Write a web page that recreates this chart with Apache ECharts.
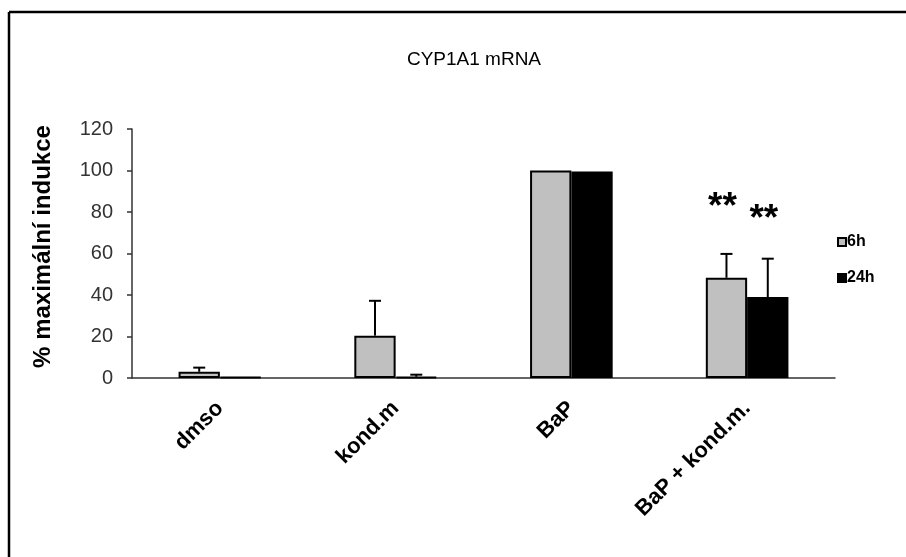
<!DOCTYPE html>
<html>
<head>
<meta charset="utf-8">
<script src="https://cdn.jsdelivr.net/npm/echarts@6/dist/echarts.min.js"></script>
<style>
html,body{margin:0;padding:0;background:#fff;}
#c{width:906px;height:557px;}
</style>
</head>
<body>
<div id="c"></div>
<script>
const categories = ['dmso', 'kond.m', 'BaP', 'BaP + kond.m.'];
const values6h = [3, 20.4, 100, 48.3];
const values24h = [0.4, 0.6, 99.5, 39];
const err6h = [2, 16.8, 0, 11.5];
const err24h = [0, 1, 0, 18.5];
const stars6h = ['', '', '', '**'];
const stars24h = ['', '', '', '**'];
const starLevel6h = [null, null, null, 85.5];
const starLevel24h = [null, null, null, 79.5];
const yTicks = [0, 20, 40, 60, 80, 100, 120];

const BAR_FRAC = 0.235;

function errorSeries(name, vals, errs, side, stars, starLevels) {
  const data = vals.map((v, i) => [i, v, v + errs[i], stars[i], starLevels[i], errs[i]]);
  return {
    type: 'custom',
    name: name + '_err',
    data: data,
    z: 10,
    silent: true,
    renderItem: function (params, api) {
      const i = api.value(0);
      const band = api.size([1, 0])[0];
      const bw = band * BAR_FRAC;
      const base = api.coord([i, api.value(1)]);
      const x = base[0] + side * bw / 2;
      const children = [];
      if (api.value(5) > 0) {
        const top = api.coord([i, api.value(2)]);
        const cap = 6;
        children.push({
          type: 'line',
          shape: {x1: x, y1: base[1], x2: x, y2: top[1]},
          style: {stroke: '#000', lineWidth: 2}
        });
        children.push({
          type: 'line',
          shape: {x1: x - cap, y1: top[1], x2: x + cap, y2: top[1]},
          style: {stroke: '#000', lineWidth: 2}
        });
      }
      const s = stars[i];
      if (s) {
        const sp = api.coord([i, starLevels[i]]);
        children.push({
          type: 'text',
          x: x - 4,
          y: sp[1] + 7,
          style: {
            text: s,
            fontSize: 37,
            fontWeight: 'bold',
            fontFamily: 'Liberation Sans, Arial, sans-serif',
            fill: '#000',
            align: 'center',
            verticalAlign: 'middle'
          }
        });
      }
      return {type: 'group', children: children};
    }
  };
}

const chart = echarts.init(document.getElementById('c'), null, {renderer: 'canvas'});
const option = {
  backgroundColor: '#fff',
  animation: false,
  title: {
    text: 'CYP1A1 mRNA',
    left: 469,
    top: 45,
    textAlign: 'center',
    textStyle: {fontSize: 19, fontWeight: 'normal', color: '#000', fontFamily: 'Liberation Sans, Arial, sans-serif'}
  },
  legend: {
    orient: 'vertical',
    left: 832,
    top: 229,
    itemWidth: 8,
    itemHeight: 8,
    itemGap: 20,
    icon: 'rect',
    data: ['6h', '24h'],
    textStyle: {fontSize: 16, fontWeight: 'bold', color: '#000', fontFamily: 'Liberation Sans, Arial, sans-serif', padding: [0, 0, 0, -4]}
  },
  grid: {left: 132, right: 71, top: 129, bottom: 179, containLabel: false},
  xAxis: {
    type: 'category',
    data: categories,
    axisLine: {lineStyle: {color: '#333', width: 1.5}},
    axisTick: {show: false},
    axisLabel: {
      rotate: 45,
      margin: 27,
      interval: 0,
      fontSize: 22,
      fontWeight: 'bold',
      color: '#000',
      fontFamily: 'Liberation Sans, Arial, sans-serif'
    }
  },
  yAxis: {
    type: 'value',
    min: 0,
    max: 120,
    interval: 20,
    name: '% maximální indukce',
    nameLocation: 'middle',
    nameGap: 77,
    nameRotate: 90,
    nameTextStyle: {fontSize: 24, fontWeight: 'bold', color: '#000', fontFamily: 'Liberation Sans, Arial, sans-serif', padding: [0, 0, 0, 14]},
    axisLine: {show: true, lineStyle: {color: '#333', width: 1.5}},
    axisTick: {show: true, inside: false, length: 5, lineStyle: {color: '#333', width: 1.5}},
    splitLine: {show: false},
    axisLabel: {
      margin: 19,
      fontSize: 20,
      color: '#333',
      fontFamily: 'Liberation Sans, Arial, sans-serif',
      formatter: function (v) { return yTicks.indexOf(v) >= 0 ? String(v) : ''; }
    }
  },
  series: [
    {
      name: '6h',
      type: 'bar',
      data: values6h,
      barWidth: (BAR_FRAC * 100) + '%',
      barGap: '0%',
      itemStyle: {color: '#C0C0C0', borderColor: '#000', borderWidth: 2}
    },
    {
      name: '24h',
      type: 'bar',
      data: values24h,
      barWidth: (BAR_FRAC * 100) + '%',
      barGap: '0%',
      itemStyle: {color: '#000', borderColor: '#000', borderWidth: 2}
    },
    errorSeries('6h', values6h, err6h, -1, stars6h, starLevel6h),
    errorSeries('24h', values24h, err24h, 1, stars24h, starLevel24h)
  ],
  graphic: [
    {type: 'line', shape: {x1: 9, y1: 12, x2: 906, y2: 12}, style: {stroke: '#000', lineWidth: 2.5}},
    {type: 'line', shape: {x1: 9, y1: 12, x2: 9, y2: 557}, style: {stroke: '#000', lineWidth: 2.5}}
  ]
};
chart.setOption(option);
</script>
</body>
</html>
